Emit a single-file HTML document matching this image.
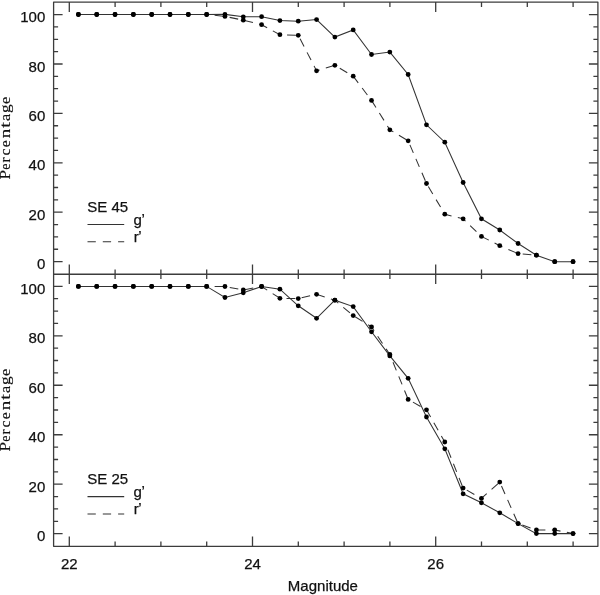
<!DOCTYPE html>
<html><head><meta charset="utf-8"><style>
html,body{margin:0;padding:0;background:#fff;}
svg{display:block;will-change:transform;}
</style></head><body>
<svg width="600" height="595" viewBox="0 0 600 595">
<rect width="600" height="595" fill="#fff"/>
<path d="M69.30 2.1v9.8 M69.30 274.25v-9.8 M69.30 274.25v9.8 M69.30 546.3v-9.8 M115.10 2.1v4.8 M115.10 274.25v-4.8 M115.10 274.25v4.8 M115.10 546.3v-4.8 M160.90 2.1v4.8 M160.90 274.25v-4.8 M160.90 274.25v4.8 M160.90 546.3v-4.8 M206.70 2.1v4.8 M206.70 274.25v-4.8 M206.70 274.25v4.8 M206.70 546.3v-4.8 M252.50 2.1v9.8 M252.50 274.25v-9.8 M252.50 274.25v9.8 M252.50 546.3v-9.8 M298.30 2.1v4.8 M298.30 274.25v-4.8 M298.30 274.25v4.8 M298.30 546.3v-4.8 M344.10 2.1v4.8 M344.10 274.25v-4.8 M344.10 274.25v4.8 M344.10 546.3v-4.8 M389.90 2.1v4.8 M389.90 274.25v-4.8 M389.90 274.25v4.8 M389.90 546.3v-4.8 M435.70 2.1v9.8 M435.70 274.25v-9.8 M435.70 274.25v9.8 M435.70 546.3v-9.8 M481.50 2.1v4.8 M481.50 274.25v-4.8 M481.50 274.25v4.8 M481.50 546.3v-4.8 M527.30 2.1v4.8 M527.30 274.25v-4.8 M527.30 274.25v4.8 M527.30 546.3v-4.8 M573.10 2.1v4.8 M573.10 274.25v-4.8 M573.10 274.25v4.8 M573.10 546.3v-4.8 M53.6 261.60h9.0 M597.9 261.60h-9.0 M53.6 249.25h4.5 M597.9 249.25h-4.5 M53.6 236.90h4.5 M597.9 236.90h-4.5 M53.6 224.55h4.5 M597.9 224.55h-4.5 M53.6 212.20h9.0 M597.9 212.20h-9.0 M53.6 199.85h4.5 M597.9 199.85h-4.5 M53.6 187.50h4.5 M597.9 187.50h-4.5 M53.6 175.15h4.5 M597.9 175.15h-4.5 M53.6 162.80h9.0 M597.9 162.80h-9.0 M53.6 150.45h4.5 M597.9 150.45h-4.5 M53.6 138.10h4.5 M597.9 138.10h-4.5 M53.6 125.75h4.5 M597.9 125.75h-4.5 M53.6 113.40h9.0 M597.9 113.40h-9.0 M53.6 101.05h4.5 M597.9 101.05h-4.5 M53.6 88.70h4.5 M597.9 88.70h-4.5 M53.6 76.35h4.5 M597.9 76.35h-4.5 M53.6 64.00h9.0 M597.9 64.00h-9.0 M53.6 51.65h4.5 M597.9 51.65h-4.5 M53.6 39.30h4.5 M597.9 39.30h-4.5 M53.6 26.95h4.5 M597.9 26.95h-4.5 M53.6 14.60h9.0 M597.9 14.60h-9.0 M53.6 533.70h9.0 M597.9 533.70h-9.0 M53.6 521.33h4.5 M597.9 521.33h-4.5 M53.6 508.96h4.5 M597.9 508.96h-4.5 M53.6 496.59h4.5 M597.9 496.59h-4.5 M53.6 484.22h9.0 M597.9 484.22h-9.0 M53.6 471.85h4.5 M597.9 471.85h-4.5 M53.6 459.48h4.5 M597.9 459.48h-4.5 M53.6 447.11h4.5 M597.9 447.11h-4.5 M53.6 434.74h9.0 M597.9 434.74h-9.0 M53.6 422.37h4.5 M597.9 422.37h-4.5 M53.6 410.00h4.5 M597.9 410.00h-4.5 M53.6 397.63h4.5 M597.9 397.63h-4.5 M53.6 385.26h9.0 M597.9 385.26h-9.0 M53.6 372.89h4.5 M597.9 372.89h-4.5 M53.6 360.52h4.5 M597.9 360.52h-4.5 M53.6 348.15h4.5 M597.9 348.15h-4.5 M53.6 335.78h9.0 M597.9 335.78h-9.0 M53.6 323.41h4.5 M597.9 323.41h-4.5 M53.6 311.04h4.5 M597.9 311.04h-4.5 M53.6 298.67h4.5 M597.9 298.67h-4.5 M53.6 286.30h9.0 M597.9 286.30h-9.0" stroke="#3c3c3c" stroke-width="1.3" fill="none"/>
<path d="M53.6 2.1H597.9V546.3H53.6Z M53.6 274.25H597.9" stroke="#3c3c3c" stroke-width="1.3" fill="none" stroke-linejoin="round"/>
<polyline points="206.64,14.50 224.96,16.40 243.28,20.20 261.60,24.70 279.92,34.70 298.24,35.30 316.56,70.80 334.88,65.30 353.20,76.20 371.52,100.40 389.84,129.80 408.16,140.80 426.48,183.50 444.80,214.20 463.12,218.80 481.44,236.40 499.76,245.70 518.08,253.60 536.40,255.20" fill="none" stroke="#333" stroke-width="1.05" stroke-dasharray="8.7 6.5" stroke-dashoffset="128.80"/>
<polyline points="78.40,14.50 96.72,14.50 115.04,14.50 133.36,14.50 151.68,14.50 170.00,14.50 188.32,14.50 206.64,14.50 224.96,14.40 243.28,16.80 261.60,16.70 279.92,20.60 298.24,21.20 316.56,19.60 334.88,37.10 353.20,29.90 371.52,54.50 389.84,52.10 408.16,74.50 426.48,124.80 444.80,142.20 463.12,182.50 481.44,218.80 499.76,230.00 518.08,243.50 536.40,255.20 554.72,261.70 573.04,261.70" fill="none" stroke="#333" stroke-width="1.05"/>
<polyline points="206.64,286.40 224.96,286.50 243.28,290.00 261.60,286.50 279.92,298.30 298.24,298.60 316.56,294.30 334.88,300.20 353.20,315.60 371.52,326.90 389.84,354.50 408.16,399.40 426.48,409.80 444.80,442.00 463.12,488.10 481.44,498.40 499.76,482.10 518.08,523.60 536.40,530.00 554.72,530.00 573.04,533.60" fill="none" stroke="#333" stroke-width="1.05" stroke-dasharray="8.7 6.5" stroke-dashoffset="128.80"/>
<polyline points="78.40,286.40 96.72,286.40 115.04,286.40 133.36,286.40 151.68,286.40 170.00,286.40 188.32,286.40 206.64,286.40 224.96,297.50 243.28,292.80 261.60,286.50 279.92,289.20 298.24,305.80 316.56,318.30 334.88,300.20 353.20,306.60 371.52,331.80 389.84,355.90 408.16,378.30 426.48,417.00 444.80,448.80 463.12,493.80 481.44,502.80 499.76,512.80 518.08,523.60 536.40,533.60 554.72,533.60 573.04,533.60" fill="none" stroke="#333" stroke-width="1.05"/>
<g fill="#000"><circle cx="78.40" cy="14.50" r="2.4"/><circle cx="96.72" cy="14.50" r="2.4"/><circle cx="115.04" cy="14.50" r="2.4"/><circle cx="133.36" cy="14.50" r="2.4"/><circle cx="151.68" cy="14.50" r="2.4"/><circle cx="170.00" cy="14.50" r="2.4"/><circle cx="188.32" cy="14.50" r="2.4"/><circle cx="206.64" cy="14.50" r="2.4"/><circle cx="224.96" cy="16.40" r="2.4"/><circle cx="243.28" cy="20.20" r="2.4"/><circle cx="261.60" cy="24.70" r="2.4"/><circle cx="279.92" cy="34.70" r="2.4"/><circle cx="298.24" cy="35.30" r="2.4"/><circle cx="316.56" cy="70.80" r="2.4"/><circle cx="334.88" cy="65.30" r="2.4"/><circle cx="353.20" cy="76.20" r="2.4"/><circle cx="371.52" cy="100.40" r="2.4"/><circle cx="389.84" cy="129.80" r="2.4"/><circle cx="408.16" cy="140.80" r="2.4"/><circle cx="426.48" cy="183.50" r="2.4"/><circle cx="444.80" cy="214.20" r="2.4"/><circle cx="463.12" cy="218.80" r="2.4"/><circle cx="481.44" cy="236.40" r="2.4"/><circle cx="499.76" cy="245.70" r="2.4"/><circle cx="518.08" cy="253.60" r="2.4"/><circle cx="536.40" cy="255.20" r="2.4"/><circle cx="554.72" cy="261.70" r="2.4"/><circle cx="573.04" cy="261.70" r="2.4"/><circle cx="78.40" cy="14.50" r="2.4"/><circle cx="96.72" cy="14.50" r="2.4"/><circle cx="115.04" cy="14.50" r="2.4"/><circle cx="133.36" cy="14.50" r="2.4"/><circle cx="151.68" cy="14.50" r="2.4"/><circle cx="170.00" cy="14.50" r="2.4"/><circle cx="188.32" cy="14.50" r="2.4"/><circle cx="206.64" cy="14.50" r="2.4"/><circle cx="224.96" cy="14.40" r="2.4"/><circle cx="243.28" cy="16.80" r="2.4"/><circle cx="261.60" cy="16.70" r="2.4"/><circle cx="279.92" cy="20.60" r="2.4"/><circle cx="298.24" cy="21.20" r="2.4"/><circle cx="316.56" cy="19.60" r="2.4"/><circle cx="334.88" cy="37.10" r="2.4"/><circle cx="353.20" cy="29.90" r="2.4"/><circle cx="371.52" cy="54.50" r="2.4"/><circle cx="389.84" cy="52.10" r="2.4"/><circle cx="408.16" cy="74.50" r="2.4"/><circle cx="426.48" cy="124.80" r="2.4"/><circle cx="444.80" cy="142.20" r="2.4"/><circle cx="463.12" cy="182.50" r="2.4"/><circle cx="481.44" cy="218.80" r="2.4"/><circle cx="499.76" cy="230.00" r="2.4"/><circle cx="518.08" cy="243.50" r="2.4"/><circle cx="536.40" cy="255.20" r="2.4"/><circle cx="554.72" cy="261.70" r="2.4"/><circle cx="573.04" cy="261.70" r="2.4"/><circle cx="78.40" cy="286.40" r="2.4"/><circle cx="96.72" cy="286.40" r="2.4"/><circle cx="115.04" cy="286.40" r="2.4"/><circle cx="133.36" cy="286.40" r="2.4"/><circle cx="151.68" cy="286.40" r="2.4"/><circle cx="170.00" cy="286.40" r="2.4"/><circle cx="188.32" cy="286.40" r="2.4"/><circle cx="206.64" cy="286.40" r="2.4"/><circle cx="224.96" cy="286.50" r="2.4"/><circle cx="243.28" cy="290.00" r="2.4"/><circle cx="261.60" cy="286.50" r="2.4"/><circle cx="279.92" cy="298.30" r="2.4"/><circle cx="298.24" cy="298.60" r="2.4"/><circle cx="316.56" cy="294.30" r="2.4"/><circle cx="334.88" cy="300.20" r="2.4"/><circle cx="353.20" cy="315.60" r="2.4"/><circle cx="371.52" cy="326.90" r="2.4"/><circle cx="389.84" cy="354.50" r="2.4"/><circle cx="408.16" cy="399.40" r="2.4"/><circle cx="426.48" cy="409.80" r="2.4"/><circle cx="444.80" cy="442.00" r="2.4"/><circle cx="463.12" cy="488.10" r="2.4"/><circle cx="481.44" cy="498.40" r="2.4"/><circle cx="499.76" cy="482.10" r="2.4"/><circle cx="518.08" cy="523.60" r="2.4"/><circle cx="536.40" cy="530.00" r="2.4"/><circle cx="554.72" cy="530.00" r="2.4"/><circle cx="573.04" cy="533.60" r="2.4"/><circle cx="78.40" cy="286.40" r="2.4"/><circle cx="96.72" cy="286.40" r="2.4"/><circle cx="115.04" cy="286.40" r="2.4"/><circle cx="133.36" cy="286.40" r="2.4"/><circle cx="151.68" cy="286.40" r="2.4"/><circle cx="170.00" cy="286.40" r="2.4"/><circle cx="188.32" cy="286.40" r="2.4"/><circle cx="206.64" cy="286.40" r="2.4"/><circle cx="224.96" cy="297.50" r="2.4"/><circle cx="243.28" cy="292.80" r="2.4"/><circle cx="261.60" cy="286.50" r="2.4"/><circle cx="279.92" cy="289.20" r="2.4"/><circle cx="298.24" cy="305.80" r="2.4"/><circle cx="316.56" cy="318.30" r="2.4"/><circle cx="334.88" cy="300.20" r="2.4"/><circle cx="353.20" cy="306.60" r="2.4"/><circle cx="371.52" cy="331.80" r="2.4"/><circle cx="389.84" cy="355.90" r="2.4"/><circle cx="408.16" cy="378.30" r="2.4"/><circle cx="426.48" cy="417.00" r="2.4"/><circle cx="444.80" cy="448.80" r="2.4"/><circle cx="463.12" cy="493.80" r="2.4"/><circle cx="481.44" cy="502.80" r="2.4"/><circle cx="499.76" cy="512.80" r="2.4"/><circle cx="518.08" cy="523.60" r="2.4"/><circle cx="536.40" cy="533.60" r="2.4"/><circle cx="554.72" cy="533.60" r="2.4"/><circle cx="573.04" cy="533.60" r="2.4"/></g>
<g font-family="Liberation Sans, sans-serif" font-size="15" fill="#111" stroke="#111" stroke-width="0.25">
<text x="45.3" y="269.10" text-anchor="end">0</text>
<text x="45.3" y="219.70" text-anchor="end">20</text>
<text x="45.3" y="170.30" text-anchor="end">40</text>
<text x="45.3" y="120.90" text-anchor="end">60</text>
<text x="45.3" y="71.50" text-anchor="end">80</text>
<text x="45.3" y="22.10" text-anchor="end">100</text>
<text x="45.3" y="541.20" text-anchor="end">0</text>
<text x="45.3" y="491.72" text-anchor="end">20</text>
<text x="45.3" y="442.24" text-anchor="end">40</text>
<text x="45.3" y="392.76" text-anchor="end">60</text>
<text x="45.3" y="343.28" text-anchor="end">80</text>
<text x="45.3" y="293.80" text-anchor="end">100</text>
<text x="69.30" y="569.2" text-anchor="middle">22</text>
<text x="252.50" y="569.2" text-anchor="middle">24</text>
<text x="435.70" y="569.2" text-anchor="middle">26</text>
<text x="322.9" y="591.3" text-anchor="middle">Magnitude</text>
<text x="87.3" y="211.80">SE 45</text>
<text x="133.4" y="224.60">g<tspan dx="-0.3" dy="-1">’</tspan></text>
<text x="133.8" y="241.60">r<tspan dx="-1" dy="-1.1">’</tspan></text>
<text x="87.3" y="483.90">SE 25</text>
<text x="133.4" y="496.70">g<tspan dx="-0.3" dy="-1">’</tspan></text>
<text x="133.8" y="513.70">r<tspan dx="-1" dy="-1.1">’</tspan></text>
</g>
<path d="M87.5 224.5H124.2" stroke="#333" stroke-width="1.05"/>
<path d="M87.5 496.6H124.2" stroke="#333" stroke-width="1.05"/>
<path d="M87.5 241.8H124.2 M87.5 513.9H124.2" stroke="#333" stroke-width="1.05" stroke-dasharray="8.3 7"/>
<g font-family="Liberation Serif, serif" fill="#111" stroke="#111" stroke-width="0.15"><text font-size="14.2" transform="translate(9.9 179.39) rotate(-90) scale(1.200 1)">P</text><text font-size="14.6" transform="translate(9.9 169.74) rotate(-90) scale(0.944 1)">e</text><text font-size="14.6" transform="translate(9.9 162.60) rotate(-90) scale(1.036 1)">r</text><text font-size="14.6" transform="translate(9.9 155.26) rotate(-90) scale(1.005 1)">c</text><text font-size="14.6" transform="translate(9.9 147.21) rotate(-90) scale(1.074 1)">e</text><text font-size="14.6" transform="translate(9.9 138.34) rotate(-90) scale(1.305 1)">n</text><text font-size="14.6" transform="translate(9.9 127.91) rotate(-90) scale(1.464 1)">t</text><text font-size="14.6" transform="translate(9.9 120.97) rotate(-90) scale(1.110 1)">a</text><text font-size="14.6" transform="translate(9.9 113.05) rotate(-90) scale(1.188 1)">g</text><text font-size="14.6" transform="translate(9.9 104.03) rotate(-90) scale(1.111 1)">e</text></g>
<g font-family="Liberation Serif, serif" fill="#111" stroke="#111" stroke-width="0.15"><text font-size="14.2" transform="translate(9.9 451.39) rotate(-90) scale(1.200 1)">P</text><text font-size="14.6" transform="translate(9.9 441.74) rotate(-90) scale(0.944 1)">e</text><text font-size="14.6" transform="translate(9.9 434.60) rotate(-90) scale(1.036 1)">r</text><text font-size="14.6" transform="translate(9.9 427.26) rotate(-90) scale(1.005 1)">c</text><text font-size="14.6" transform="translate(9.9 419.21) rotate(-90) scale(1.074 1)">e</text><text font-size="14.6" transform="translate(9.9 410.34) rotate(-90) scale(1.305 1)">n</text><text font-size="14.6" transform="translate(9.9 399.91) rotate(-90) scale(1.464 1)">t</text><text font-size="14.6" transform="translate(9.9 392.97) rotate(-90) scale(1.110 1)">a</text><text font-size="14.6" transform="translate(9.9 385.05) rotate(-90) scale(1.188 1)">g</text><text font-size="14.6" transform="translate(9.9 376.03) rotate(-90) scale(1.111 1)">e</text></g>
</svg>
</body></html>
